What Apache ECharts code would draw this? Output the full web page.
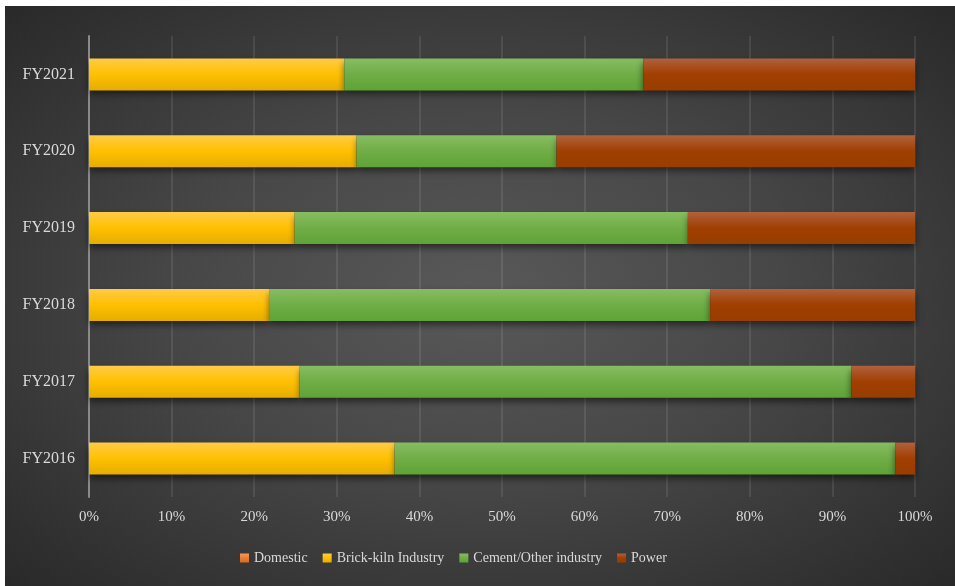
<!DOCTYPE html>
<html>
<head>
<meta charset="utf-8">
<style>
  html, body { margin: 0; padding: 0; background: #ffffff; }
  #frame { position: absolute; left: 5px; top: 6px; width: 950px; height: 580px;
           background: radial-gradient(ellipse at 50% 50%, #595959 0%, #474747 45%, #292929 100%); }
  #chart { position: absolute; left: 0; top: 0; width: 955px; height: 586px; }
</style>
<script src="https://cdn.jsdelivr.net/npm/echarts@6/dist/echarts.min.js"></script>
</head>
<body>
<div id="frame"></div>
<div id="chart"></div>
<script>
// Fiscal years, bottom to top
const categories = ['FY2016', 'FY2017', 'FY2018', 'FY2019', 'FY2020', 'FY2021'];
// Share of consumption by sector (%)
const domestic  = [0, 0, 0, 0, 0, 0];
const brickKiln = [37.0, 25.5, 21.8, 24.9, 32.4, 30.9];
const cement    = [60.6, 66.8, 53.4, 47.6, 24.2, 36.2];
const power     = [2.4, 7.7, 24.8, 27.5, 43.4, 32.9];
const tickLabels = ['0%', '10%', '20%', '30%', '40%', '50%', '60%', '70%', '80%', '90%', '100%'];

const font = '"Liberation Serif", "Times New Roman", serif';

function grad(top, mid, bottom) {
  return new echarts.graphic.LinearGradient(0, 0, 0, 1, [
    { offset: 0, color: top },
    { offset: 0.5, color: mid },
    { offset: 1, color: bottom }
  ]);
}

function barSeries(name, data, color) {
  return {
    name: name,
    type: 'bar',
    stack: 'total',
    barWidth: 32,
    data: data,
    itemStyle: {
      color: color,
      shadowColor: 'rgba(0,0,0,0.55)',
      shadowBlur: 7,
      shadowOffsetY: 4
    }
  };
}

const chart = echarts.init(document.getElementById('chart'), null, { renderer: 'canvas' });
chart.setOption({
  backgroundColor: 'transparent',
  animation: false,
  grid: { left: 89, right: 40, top: 36, bottom: 89, containLabel: false },
  legend: {
    left: 240,
    top: 551,
    padding: 0,
    itemWidth: 9,
    itemHeight: 9,
    itemGap: 15,
    icon: 'rect',
    textStyle: { color: '#d9d9d9', fontFamily: font, fontSize: 14 },
    data: ['Domestic', 'Brick-kiln Industry', 'Cement/Other industry', 'Power']
  },
  xAxis: {
    type: 'value',
    min: 0,
    max: 100,
    interval: 10,
    axisLine: { show: false },
    axisTick: { show: false },
    splitLine: { show: true, lineStyle: { color: 'rgba(255,255,255,0.12)', width: 1.5 } },
    axisLabel: {
      color: '#d9d9d9',
      fontFamily: font,
      fontSize: 15,
      margin: 13,
      formatter: function (v) { return tickLabels[Math.round(v / 10)]; }
    }
  },
  yAxis: {
    type: 'category',
    data: categories,
    axisLine: { show: true, lineStyle: { color: '#8a8a8a', width: 2 } },
    axisTick: { show: false },
    axisLabel: { color: '#d9d9d9', fontFamily: font, fontSize: 16, margin: 14 }
  },
  series: [
    barSeries('Domestic', domestic, grad('#f49a5c', '#ed7d31', '#d86a20')),
    barSeries('Brick-kiln Industry', brickKiln, grad('#ffcb45', '#ffc000', '#e6ad00')),
    barSeries('Cement/Other industry', cement, grad('#86bd61', '#70ad47', '#5fa336')),
    barSeries('Power', power, grad('#b0613d', '#a03f00', '#993d00'))
  ]
});
</script>
</body>
</html>
